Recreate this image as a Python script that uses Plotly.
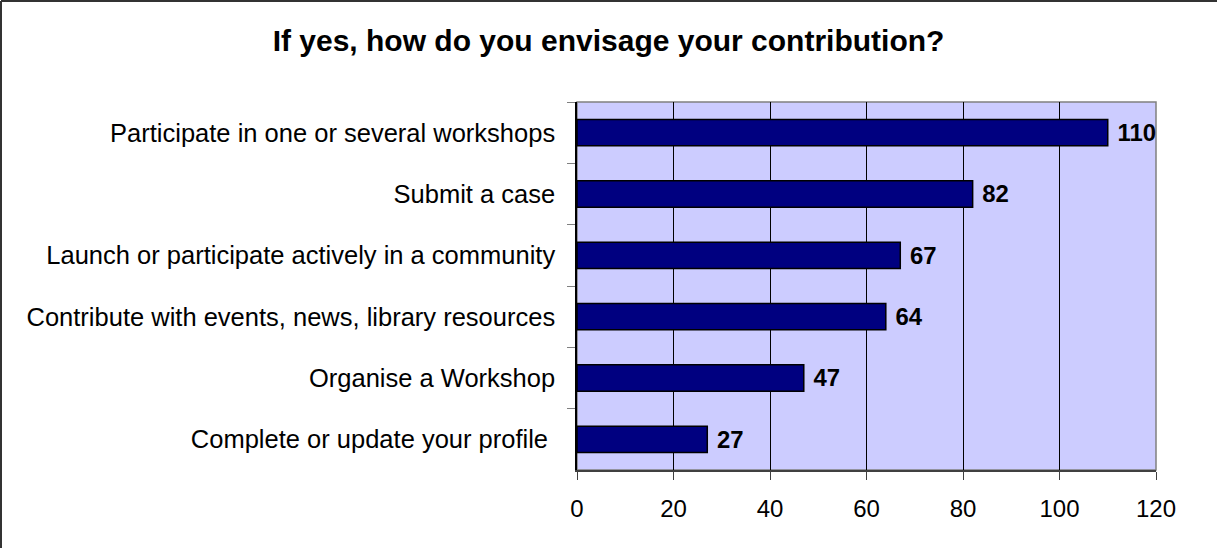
import plotly.graph_objects as go

categories = ['Participate in one or several workshops',
              'Submit a case',
              'Launch or participate actively in a community',
              'Contribute with events, news, library resources',
              'Organise a Workshop',
              'Complete or update your profile\u00a0']
values = [110, 82, 67, 64, 47, 27]
x_ticks = [0, 20, 40, 60, 80, 100, 120]

W, H = 1217, 548
L, R, T, B = 577, 61, 102, 78
pw, ph = W - L - R, H - T - B
FONT = 'Liberation Sans, Arial'

fig = go.Figure()
fig.add_trace(go.Bar(
    y=categories, x=values, orientation='h',
    marker=dict(color='#000080', line=dict(color='black', width=1.5)),
    text=['\u00a0' + str(v) for v in values], textposition='outside',
    textfont=dict(family=FONT, size=24.5, color='black', weight='bold'),
    cliponaxis=False, hoverinfo='skip',
))

fig.update_layout(
    width=W, height=H,
    margin=dict(l=L, r=R, t=T, b=B),
    paper_bgcolor='white', plot_bgcolor='#CCCCFF',
    font=dict(family=FONT, size=25.5, color='black'),
    title=dict(text='<b>If yes, how do you envisage your contribution?</b>',
               x=0.5, xref='container', xanchor='center', y=1 - 40 / H, yref='container', yanchor='middle',
               font=dict(size=30, color='black')),
    bargap=0.57, showlegend=False,
    xaxis=dict(range=[0, 120], tickvals=x_ticks, showgrid=True, gridcolor='black', gridwidth=1,
               zeroline=False, showline=True, linecolor='#404040', linewidth=2,
               ticks='outside', ticklen=8, tickcolor='#404040', ticklabelstandoff=8,
               tickfont=dict(size=24)),
    yaxis=dict(autorange='reversed', showgrid=False, zeroline=False, showline=True,
               linecolor='black', linewidth=1.5, ticks='outside', ticklen=8, tickcolor='#808080',
               tickson='boundaries', ticklabelstandoff=15),
)

# plot-area border (grey) and outer chart frame (left/top only, as in the source image)
fig.add_shape(type='rect', xref='paper', yref='paper', x0=0, x1=1, y0=0, y1=1,
              line=dict(color='#808080', width=1.5), layer='below')
fx0 = (1 - L) / pw
fy1 = 1 + (T - 1) / ph
fig.add_shape(type='line', xref='paper', yref='paper', x0=fx0, x1=fx0, y0=-B / ph - 0.01, y1=fy1,
              line=dict(color='#333333', width=2))
fig.add_shape(type='line', xref='paper', yref='paper', x0=fx0, x1=1 + R / pw + 0.01, y0=fy1, y1=fy1,
              line=dict(color='#333333', width=2))

fig.write_html('out.html', config={'displayModeBar': False},
               post_script="document.body.style.margin='0';")
